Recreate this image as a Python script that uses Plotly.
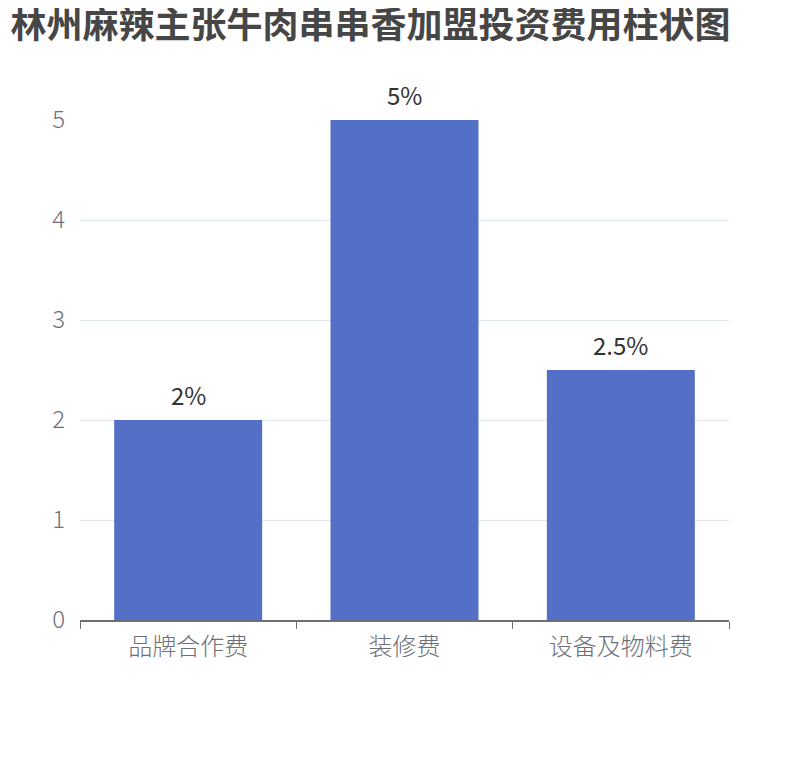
import plotly.graph_objects as go

# data
categories = ["品牌合作费", "装修费", "设备及物料费"]
values = [2, 5, 2.5]
value_labels = ["2%", "5%", "2.5%"]

FONT = "Noto Sans CJK SC, Noto Sans, sans-serif"

fig = go.Figure()
fig.add_trace(go.Bar(
    x=categories,
    y=values,
    marker=dict(color="#5470C6", line=dict(width=0)),
    hoverinfo="x+y",
))

# value labels above the bars
for c, v, t in zip(categories, values, value_labels):
    fig.add_annotation(
        x=c, y=v, text=t, showarrow=False,
        yanchor="bottom", yshift=6,
        font=dict(family=FONT, size=24, color="#333333"),
    )

fig.update_layout(
    width=794, height=744,
    margin=dict(l=72, r=73, t=112, b=132),
    paper_bgcolor="white",
    plot_bgcolor="white",
    bargap=0.316,
    showlegend=False,
    title=dict(
        text="<b>林州麻辣主张牛肉串串香加盟投资费用柱状图</b>",
        x=0.003, xanchor="left", y=0.977, yanchor="middle",
        font=dict(family=FONT, size=36, color="#464646"),
    ),
    font=dict(family=FONT),
)

fig.update_xaxes(
    showline=True, linecolor="#6E7079", linewidth=1.5,
    ticks="outside", tickson="boundaries", ticklen=7, tickcolor="#6E7079",
    ticklabelstandoff=4,
    tickfont=dict(family=FONT, size=24, color="#6E7079", weight=300),
    showgrid=False,
)
fig.update_yaxes(
    range=[0, 5], dtick=1,
    showline=False, zeroline=False,
    gridcolor="#E0E6F1", gridwidth=1,
    ticks="", ticklabelstandoff=14,
    tickfont=dict(family=FONT, size=24, color="#6E7079", weight=300),
)

fig.write_html("out.html")
